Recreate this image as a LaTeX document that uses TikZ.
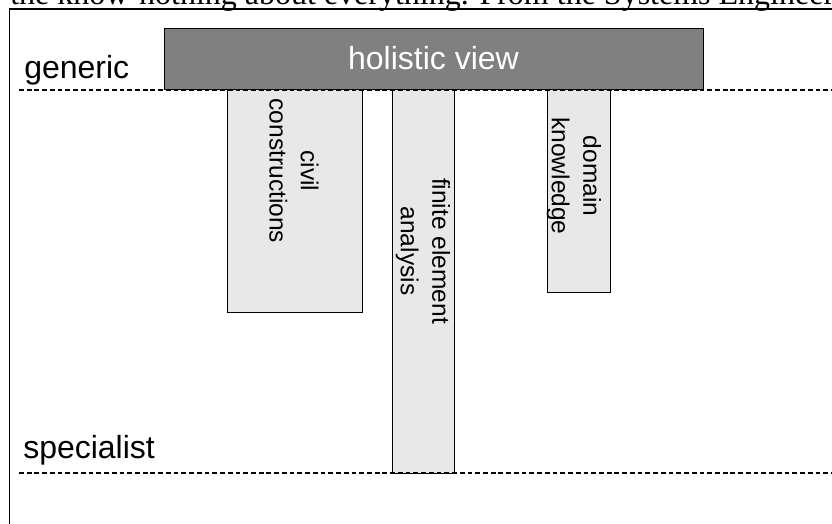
\documentclass[tikz,border=0pt]{standalone}
\usepackage{fontspec}
\setmainfont{Liberation Sans}
\newfontfamily\titlefont{Liberation Serif}
\definecolor{boxlight}{HTML}{E8E8E8}
\definecolor{boxdark}{HTML}{808080}
\begin{document}
\begin{tikzpicture}[x=0.75pt,y=-0.75pt,
  bigtext/.style={font=\fontsize{24}{28}\selectfont, inner sep=0pt},
  vtext/.style={font=\fontsize{18.4}{23.5}\selectfont, rotate=-90, align=center, inner sep=0pt},
  lightbox/.style={draw=black, line width=0.75pt, fill=boxlight},
  darkbox/.style={draw=black, line width=0.75pt, fill=boxdark},
  levelline/.style={line width=1.5pt, dash pattern=on 3.6pt off 2.2pt},
  frameline/.style={line width=1.2pt},
]
\useasboundingbox (0,0) rectangle (832,524);
% title (partly cut off at top, as in the reference)
\node[anchor=base west, inner sep=0pt, font=\titlefont\fontsize{24}{28}\selectfont] (title) at (10,4.5) {the know-nothing about everything. From the Systems Engineer};
% frame
\draw[frameline] (9.5,600) -- (9.5,9) -- (900,9);
% boxes
\draw[lightbox] (227,90) rectangle (362,312);
\draw[lightbox] (392,90) rectangle (454.5,473);
\draw[lightbox] (547,90) rectangle (610,292);
\draw[darkbox] (164,29) rectangle (703,90);
% level lines
\draw[levelline] (19,90) -- (832,90);
\draw[levelline] (19,473) -- (832,473);
% texts
\node[bigtext, anchor=base, text=white] (holistic) at (433.5,70) {holistic view};
\node[bigtext, anchor=base west] (generic) at (24,79) {generic};
\node[bigtext, anchor=base west] (specialist) at (23,458) {specialist};
\node[vtext] (civil) at (294,171) {civil\\constructions};
\node[vtext] (fea) at (423,251) {finite element\\analysis};
\node[vtext] (domain) at (574,176) {domain\\knowledge};
\end{tikzpicture}
\end{document}
